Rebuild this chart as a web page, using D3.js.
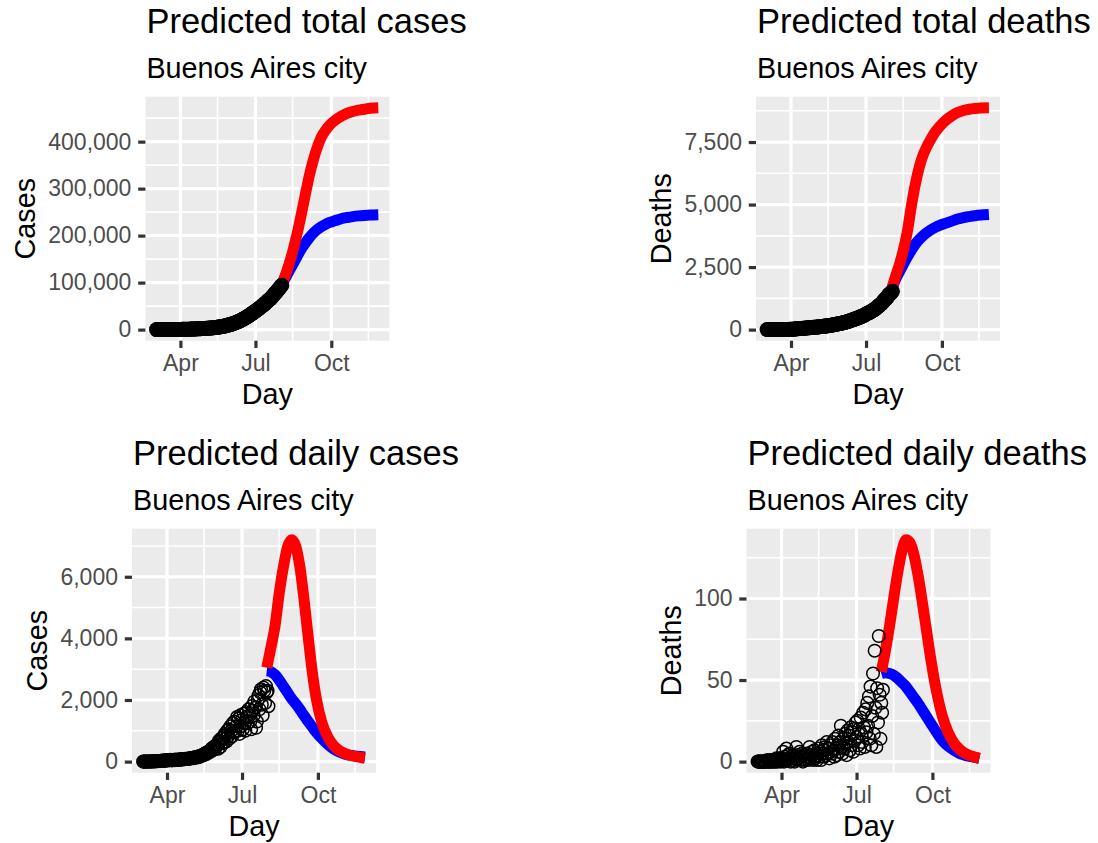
<!DOCTYPE html>
<html>
<head>
<meta charset="utf-8">
<script src="https://cdn.jsdelivr.net/npm/d3@7"></script>
<style>
  body { margin: 0; background: #fff; }
  text { font-family: "Liberation Sans", Arial, Helvetica, sans-serif; }
</style>
</head>
<body>
<svg id="chart" width="1098" height="843"></svg>
<script>
// ---- observed data: one value per day starting at obsStart ----
const obsStart = "2020-03-03";
const dailyCases = [
  1,0,1,2,1,3,2, 3,2,5,4,8,6,10, 12,9,15,18,14,22,20, 25,30,22,35,28,40,33,38,
  42,36,50,45,55,48,40, 52,60,47,58,65,50,62, 70,58,75,66,80,72,85, 78,90,84,95,88,100,92,110,105,
  115,120,108,130,140,125,150, 160,145,175,190,170,200,215, 230,210,260,280,250,300,320,
  340,310,380,420,360,450,480,400,520,500,
  550,420,680,640,480,760,600, 780,620,900,850,650,1000,820, 1050,760,1150,1000,820,1250,950,
  1300,980,1150,1450,1000,1400,900,1500,1150,
  1350,1050,1550,1250,1000,1600,1450, 1250,1700,1500,1300,1050,1800,1650,
  1500,1950,1750,1100,1300,2000,2150, 1700,2250,2350,1850,1500,2400,2300,1900,2450,2250,
  2300,1800
];
const dailyDeaths = [
  0,0,0,0,0,0,0, 0,0,0,0,0,1,0, 0,0,1,0,0,1,0, 1,0,2,0,1,2,1,0,
  2,1,6,0,3,1,8, 1,4,2,5,0,3,1, 4,2,0,3,9,1,4, 2,6,1,3,5,0,4,1,3,
  2,5,1,3,9,2,4, 6,1,3,7,2,5,1, 4,8,3,6,1,10,5, 7,3,9,4,12,5,8,2,10,6,
  5,12,7,3,14,8,4, 10,16,6,12,22,9,5, 14,8,17,11,4,19,12, 16,7,21,10,18,6,20,13,24,
  15,25,10,20,8,27,17, 12,30,21,9,32,18,36, 22,40,14,46,10,28,54,
  17,68,33,9,45,24,77,41,14,36,
  30,44
];

// ---- model predictions ----
const predDates = ["2020-07-31","2020-08-05","2020-08-10","2020-08-15","2020-08-20","2020-08-25",
  "2020-08-30","2020-09-04","2020-09-09","2020-09-14","2020-09-19","2020-09-24","2020-09-29",
  "2020-10-06","2020-10-13","2020-10-20","2020-10-27","2020-11-03","2020-11-10","2020-11-17","2020-11-27"];
const totalCasesHigh = [91000,110000,135000,165000,200000,240000,283000,325000,360000,388000,410000,
  424000,435000,446000,454000,460000,464000,467000,469000,471000,472000];
const totalCasesLow = [91000,106000,122000,138000,154000,170000,183000,195000,205000,213000,219000,
  224000,228000,232000,236000,238500,240500,242000,243000,243800,244500];
const totalDeathsHigh = [1500,2050,2550,3150,3900,4950,5850,6550,7050,7400,7700,7950,8150,8380,8550,
  8680,8760,8810,8840,8860,8870];
const totalDeathsLow = [1500,1950,2280,2600,2900,3180,3430,3620,3780,3910,4020,4110,4180,4260,4340,
  4420,4480,4520,4555,4580,4605];
const dailyCasesHigh = [3050,3700,4400,5450,6300,6950,7200,7000,6350,5300,4100,2950,2050,1250,800,
  520,360,260,200,160,110];
const dailyCasesLow = [2950,2920,2820,2650,2450,2250,2050,1880,1700,1500,1310,1130,950,740,560,
  410,310,240,200,175,150];
const dailyDeathsHigh = [55,68,83,100,116,129,136,134,126,113,97,80,63,43,28,18,11.5,7.5,5,3.5,2];
const dailyDeathsLow = [54,54.5,54,53,51,48.5,46,42.5,39,35.5,31.5,27.5,23.5,18,13,9.5,7,5,3.8,3,2];

// ---- axis breaks ----
const monthBreaks = ["2020-04-01","2020-07-01","2020-10-01"];
const monthLabels = ["Apr","Jul","Oct"];
const monthMinor = ["2020-05-16","2020-08-15","2020-11-15"];
const totalCasesTicks = [0,100000,200000,300000,400000];
const totalDeathsTicks = [0,2500,5000,7500];
const dailyCasesTicks = [0,2000,4000,6000];
const dailyDeathsTicks = [0,50,100];
const region = "Buenos Aires city";

const parse = d3.timeParse("%Y-%m-%d");
const t0 = parse(obsStart);
const obsDays = dailyCases.map((_, i) => d3.timeDay.offset(t0, i));
const predDays = predDates.map(parse);
const cumCases = Array.from(d3.cumsum(dailyCases));
const cumDeaths = Array.from(d3.cumsum(dailyDeaths));

const svg = d3.select("#chart");
const PW = 244, PH = 244;
const AX = 23, SUB = 28.75, TTL = 34.5;

// shared x extent, expanded 5% like ggplot
const xExt = d3.extent(obsDays.concat(predDays));
const xPad = (xExt[1] - xExt[0]) * 0.05;
const xDomain = [new Date(+xExt[0] - xPad), new Date(+xExt[1] + xPad)];

const panels = [
  { left: 145.4, top: 96.7, title: "Predicted total cases", ylab: "Cases", obs: cumCases, filled: true,
    high: totalCasesHigh, low: totalCasesLow, ticks: totalCasesTicks },
  { left: 756, top: 96.7, title: "Predicted total deaths", ylab: "Deaths", obs: cumDeaths, filled: true,
    high: totalDeathsHigh, low: totalDeathsLow, ticks: totalDeathsTicks },
  { left: 132, top: 528.7, title: "Predicted daily cases", ylab: "Cases", obs: dailyCases, filled: false,
    high: dailyCasesHigh, low: dailyCasesLow, ticks: dailyCasesTicks },
  { left: 746.5, top: 528.7, title: "Predicted daily deaths", ylab: "Deaths", obs: dailyDeaths, filled: false,
    high: dailyDeathsHigh, low: dailyDeathsLow, ticks: dailyDeathsTicks }
];

panels.forEach((cfg, k) => drawPanel(cfg, k));

function drawPanel(cfg, k) {
  const g = svg.append("g").attr("transform", `translate(${cfg.left},${cfg.top})`);
  const x = d3.scaleTime().domain(xDomain).range([0, PW]);
  const yExt = d3.extent(cfg.obs.concat(cfg.high, cfg.low));
  const yPad = (yExt[1] - yExt[0]) * 0.05;
  const y = d3.scaleLinear().domain([yExt[0] - yPad, yExt[1] + yPad]).range([PH, 0]);

  g.append("rect").attr("width", PW).attr("height", PH).attr("fill", "#EBEBEB");

  // grid: minor halfway between breaks, then major
  const step = cfg.ticks[1] - cfg.ticks[0];
  const yMinor = d3.range(cfg.ticks[0] - step / 2, y.domain()[1], step)
    .filter(v => v > y.domain()[0]);
  g.append("g").selectAll("line").data(yMinor).join("line")
    .attr("x1", 0).attr("x2", PW).attr("y1", d => y(d)).attr("y2", d => y(d))
    .attr("stroke", "#fff").attr("stroke-width", 1.6);
  g.append("g").selectAll("line").data(monthMinor.map(parse)).join("line")
    .attr("y1", 0).attr("y2", PH).attr("x1", d => x(d)).attr("x2", d => x(d))
    .attr("stroke", "#fff").attr("stroke-width", 1.6);
  g.append("g").selectAll("line").data(cfg.ticks).join("line")
    .attr("x1", 0).attr("x2", PW).attr("y1", d => y(d)).attr("y2", d => y(d))
    .attr("stroke", "#fff").attr("stroke-width", 3.2);
  g.append("g").selectAll("line").data(monthBreaks.map(parse)).join("line")
    .attr("y1", 0).attr("y2", PH).attr("x1", d => x(d)).attr("x2", d => x(d))
    .attr("stroke", "#fff").attr("stroke-width", 3.2);

  // clip to panel
  const clipId = "clip" + k;
  g.append("clipPath").attr("id", clipId).append("rect").attr("width", PW).attr("height", PH);
  const plot = g.append("g").attr("clip-path", `url(#${clipId})`);

  const line = d3.line().x((d, i) => x(predDays[i])).y(d => y(d)).curve(d3.curveMonotoneX);
  plot.append("path").datum(cfg.low).attr("d", line)
    .attr("fill", "none").attr("stroke", "#0000FF").attr("stroke-width", 11);
  plot.append("path").datum(cfg.high).attr("d", line)
    .attr("fill", "none").attr("stroke", "#FF0000").attr("stroke-width", 11);

  plot.append("g").selectAll("circle").data(cfg.obs).join("circle")
    .attr("cx", (d, i) => x(obsDays[i])).attr("cy", d => y(d))
    .attr("r", cfg.filled ? 7.5 : 6.3)
    .attr("fill", cfg.filled ? "#000" : "none")
    .attr("stroke", cfg.filled ? "none" : "#000")
    .attr("stroke-width", 1.5);

  // axes
  const yAxis = g.append("g")
    .call(d3.axisLeft(y).tickValues(cfg.ticks).tickFormat(d3.format(",")).tickSize(7.2).tickPadding(6.8));
  const xAxis = g.append("g").attr("transform", `translate(0,${PH})`)
    .call(d3.axisBottom(x).tickValues(monthBreaks.map(parse))
      .tickFormat((d, i) => monthLabels[i]).tickSize(7.2).tickPadding(6.5));
  [yAxis, xAxis].forEach(a => {
    a.select(".domain").remove();
    a.selectAll(".tick line").attr("stroke", "#333333").attr("stroke-width", 3.2);
    a.selectAll(".tick text").attr("fill", "#4D4D4D").style("font-size", AX + "px")
      .style("font-family", '"Liberation Sans", Arial, sans-serif');
  });

  const labLeft = yAxis.node().getBBox().x;
  g.append("text").attr("transform", `translate(${labLeft - 13},${PH / 2}) rotate(-90)`)
    .attr("text-anchor", "middle").style("font-size", SUB + "px").attr("fill", "#000").text(cfg.ylab);
  g.append("text").attr("x", PW / 2).attr("y", PH + 63).attr("text-anchor", "middle")
    .style("font-size", SUB + "px").attr("fill", "#000").text("Day");

  g.append("text").attr("x", 1).attr("y", -63.7).style("font-size", TTL + "px")
    .attr("fill", "#000").text(cfg.title);
  g.append("text").attr("x", 1).attr("y", -19).style("font-size", SUB + "px")
    .attr("fill", "#000").text(region);
}
</script>
</body>
</html>
